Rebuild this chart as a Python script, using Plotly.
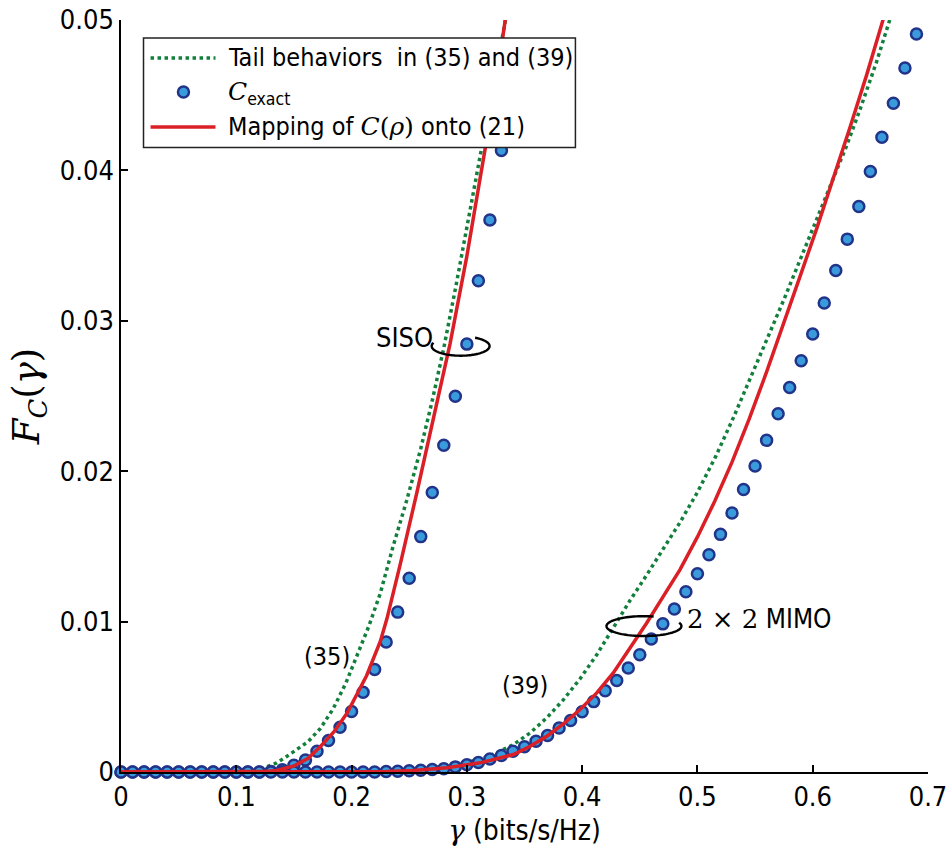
import numpy as np
import plotly.graph_objects as go

# ---------------- data ----------------
siso_exact_x = [round(0.01 * i, 2) for i in range(34)]
siso_exact_y = [0, 0, 0, 0, 0, 0, 0, 0, 0, 0, 0, 0, 0,
                0.00003, 0.00015, 0.00045, 0.00080, 0.00138, 0.00209, 0.00298,
                0.00402, 0.00530, 0.00681, 0.00865, 0.01063, 0.01288, 0.01565,
                0.01859, 0.02172, 0.02499, 0.02845, 0.03266, 0.03670, 0.04133]

mimo_exact_x = [round(0.01 * i, 2) for i in range(70)]
mimo_exact_y = [0] * 23 + [
    0.00003, 0.00005, 0.00009, 0.00012, 0.00017, 0.00022, 0.00034, 0.00048,
    0.00063, 0.00086, 0.00110, 0.00138, 0.00168, 0.00205, 0.00243, 0.00293,
    0.00342, 0.00400, 0.00468, 0.00540, 0.00608, 0.00692, 0.00780, 0.00885,
    0.00985, 0.01084, 0.01198, 0.01318, 0.01445, 0.01580, 0.01722, 0.01878,
    0.02035, 0.02205, 0.02382, 0.02557, 0.02734, 0.02912, 0.03118, 0.03334,
    0.03543, 0.03760, 0.03992, 0.04221, 0.04446, 0.04681, 0.04907]

siso_tail_x = [0.0, 0.110, 0.118, 0.125, 0.135, 0.144, 0.153, 0.162, 0.173,
               0.184, 0.195, 0.206, 0.215, 0.225, 0.236, 0.248, 0.260, 0.270,
               0.280, 0.290, 0.300, 0.310, 0.320, 0.331, 0.334]
siso_tail_y = [0.0, 0.0, 0.0001, 0.0003, 0.0006, 0.00105, 0.0015, 0.0020, 0.0029,
               0.0042, 0.0059, 0.0080, 0.0097, 0.0119, 0.0150, 0.0181, 0.0215,
               0.0247, 0.0282, 0.0321, 0.0362, 0.0403, 0.0445, 0.0490, 0.0502]

siso_map_x = [0.0, 0.115, 0.125, 0.135, 0.150, 0.162, 0.173, 0.185, 0.196, 0.213,
              0.225, 0.2307, 0.2422, 0.2567, 0.2711, 0.2855, 0.300, 0.316, 0.331,
              0.3335]
siso_map_y = [0.0, 0.0, 0.00003, 0.0001, 0.0004, 0.0009, 0.0017, 0.0027, 0.0039,
              0.0064, 0.0087, 0.0102, 0.0138, 0.0186, 0.0235, 0.0285, 0.0343,
              0.0415, 0.0488, 0.0501]

mimo_tail_x = [0.0, 0.200, 0.220, 0.240, 0.2537, 0.2827, 0.3115, 0.326, 0.3404,
               0.3549, 0.3693, 0.3837, 0.3982, 0.4127, 0.427, 0.4415, 0.456,
               0.4704, 0.4849, 0.500, 0.516, 0.532, 0.5455, 0.560, 0.5744, 0.5888,
               0.6033, 0.6177, 0.6292, 0.6408, 0.6553, 0.6668, 0.668]
mimo_tail_y = [0.0, 0.0, 0.00005, 0.00012, 0.00017, 0.00039, 0.00083, 0.00128,
               0.00183, 0.0026, 0.0036, 0.0048, 0.0062, 0.0078, 0.0096, 0.0114,
               0.0131, 0.01485, 0.0166, 0.0186, 0.0210, 0.0237, 0.0261, 0.0287,
               0.0313, 0.0340, 0.0367, 0.0394, 0.0416, 0.0440, 0.0472, 0.0500,
               0.0503]

mimo_map_x = [0.0, 0.190, 0.230, 0.2537, 0.2827, 0.3115, 0.3404, 0.3549, 0.3693,
              0.3837, 0.3982, 0.4127, 0.427, 0.4444, 0.456, 0.4704, 0.4849, 0.500,
              0.515, 0.530, 0.545, 0.560, 0.5744, 0.5888, 0.6033, 0.6177, 0.6321,
              0.6466, 0.661, 0.6625]
mimo_map_y = [0.0, 0.0, 0.00004, 0.0001, 0.00028, 0.00061, 0.00116, 0.00171,
              0.00238, 0.0032, 0.00415, 0.00526, 0.00659, 0.00858, 0.00991,
              0.01168, 0.01346, 0.01563, 0.0180, 0.0206, 0.0235, 0.0266, 0.0297,
              0.0329, 0.0361, 0.0394, 0.0428, 0.0463, 0.0499, 0.0504]

x_ticks = [0, 0.1, 0.2, 0.3, 0.4, 0.5, 0.6, 0.7]
x_tick_text = ["0", "0.1", "0.2", "0.3", "0.4", "0.5", "0.6", "0.7"]
y_ticks = [0, 0.01, 0.02, 0.03, 0.04, 0.05]
y_tick_text = ["0", "0.01", "0.02", "0.03", "0.04", "0.05"]

legend_labels = ["Tail behaviors  in (35) and (39)",
                 '<span style="font-family:DejaVu Serif"><i>C</i></span><sub>exact</sub>',
                 'Mapping of <span style="font-family:DejaVu Serif"><i>C</i>(<i>ρ</i>)</span> onto (21)']

# ---------------- style ----------------
GREEN = "#12803c"
RED = "#db1f26"
FILL = "#3a9bdc"
EDGE = "#22348a"
SANS = "DejaVu Sans Condensed, DejaVu Sans"
SERIF = "DejaVu Serif"
MSIZE = 11
MEDGE = 2.5

fig = go.Figure()

fig.add_trace(go.Scatter(x=siso_tail_x, y=siso_tail_y, mode="lines",
                         line=dict(color=GREEN, width=3.5, dash="dot"),
                         name="Tail behaviors in (35) and (39)", showlegend=False))
fig.add_trace(go.Scatter(x=mimo_tail_x, y=mimo_tail_y, mode="lines",
                         line=dict(color=GREEN, width=3.5, dash="dot"),
                         showlegend=False))
fig.add_trace(go.Scatter(x=siso_exact_x, y=siso_exact_y, mode="markers",
                         marker=dict(size=MSIZE, color=FILL, line=dict(color=EDGE, width=MEDGE)),
                         name="C exact", showlegend=False, cliponaxis=False))
fig.add_trace(go.Scatter(x=mimo_exact_x, y=mimo_exact_y, mode="markers",
                         marker=dict(size=MSIZE, color=FILL, line=dict(color=EDGE, width=MEDGE)),
                         showlegend=False, cliponaxis=False))
fig.add_trace(go.Scatter(x=siso_map_x, y=siso_map_y, mode="lines",
                         line=dict(color=RED, width=3.5),
                         name="Mapping of C(rho) onto (21)", showlegend=False))
fig.add_trace(go.Scatter(x=mimo_map_x, y=mimo_map_y, mode="lines",
                         line=dict(color=RED, width=3.5), showlegend=False))

# ---------------- ellipse markers (annotation decoration) ----------------
def arc_path(cx, cy, rx, ry, a0, a1):
    t = np.radians(np.linspace(a0, a1, 80))
    xs = cx + rx * np.cos(t)
    ys = cy + ry * np.sin(t)
    return "M " + " L ".join(f"{a:.5f},{b:.6f}" for a, b in zip(xs, ys))

fig.add_shape(type="path", xref="x", yref="y",
              path=arc_path(0.2946, 0.02832, 0.0251, 0.00064, 160, 420),
              line=dict(color="black", width=2.4))
fig.add_shape(type="path", xref="x", yref="y",
              path=arc_path(0.4536, 0.00970, 0.0325, 0.00066, 75, 380),
              line=dict(color="black", width=2.4))

fig.add_annotation(x=0.2723, y=0.0289, xref="x", yref="y", text="SISO",
                   showarrow=False, xanchor="right", yanchor="middle",
                   font=dict(family=SANS, size=27, color="black"))
fig.add_annotation(x=0.489, y=0.0102, xref="x", yref="y",
                   text='<span style="font-family:DejaVu Serif">2 × 2</span> MIMO',
                   showarrow=False, xanchor="left", yanchor="middle",
                   font=dict(family=SANS, size=26, color="black"))
fig.add_annotation(x=0.1786, y=0.00766, xref="x", yref="y", text="(35)",
                   showarrow=False, xanchor="center", yanchor="middle",
                   font=dict(family=SANS, size=25, color="black"))
fig.add_annotation(x=0.3503, y=0.00575, xref="x", yref="y", text="(39)",
                   showarrow=False, xanchor="center", yanchor="middle",
                   font=dict(family=SANS, size=25, color="black"))

# ---------------- legend (drawn in paper coordinates) ----------------
fig.add_shape(type="rect", xref="paper", yref="paper", x0=0.0279, x1=0.5631,
              y0=0.8306, y1=0.9761, fillcolor="white",
              line=dict(color="#222", width=1.5), layer="above")
fig.add_shape(type="line", xref="paper", yref="paper", x0=0.0366, x1=0.1171,
              y0=0.9495, y1=0.9495, line=dict(color=GREEN, width=3.5, dash="dot"),
              layer="above")
fig.add_shape(type="circle", xref="paper", yref="paper", xsizemode="pixel",
              ysizemode="pixel", xanchor=0.0774, yanchor=0.9043,
              x0=-MSIZE / 2, x1=MSIZE / 2, y0=-MSIZE / 2, y1=MSIZE / 2,
              fillcolor=FILL, line=dict(color=EDGE, width=MEDGE), layer="above")
fig.add_shape(type="line", xref="paper", yref="paper", x0=0.0366, x1=0.1171,
              y0=0.8578, y1=0.8578, line=dict(color=RED, width=3.5), layer="above")
for lab, yy in zip(legend_labels, [0.9505, 0.9030, 0.8590]):
    fig.add_annotation(x=0.1295, y=yy, xref="paper", yref="paper", text=lab,
                       showarrow=False, xanchor="left", yanchor="middle",
                       font=dict(family=SANS, size=25, color="black"))

fig.update_layout(
    width=949, height=848,
    margin=dict(l=120.5, r=21.3, t=20, b=75.5),
    paper_bgcolor="white", plot_bgcolor="white",
    font=dict(family=SANS, size=27, color="black"),
    showlegend=False,
)
fig.update_xaxes(range=[0, 0.7], tickvals=x_ticks, ticktext=x_tick_text,
                 ticks="inside", ticklen=7, tickwidth=1.5, tickcolor="black",
                 showline=True, linecolor="black", linewidth=1.5, mirror=False,
                 showgrid=False, zeroline=False, automargin=False,
                 title=dict(text='<span style="font-family:DejaVu Serif"><i>γ</i></span> (bits/s/Hz)',
                            font=dict(family=SANS, size=28), standoff=9))
fig.update_yaxes(range=[0, 0.05], tickvals=y_ticks, ticktext=y_tick_text,
                 ticks="inside", ticklen=7, tickwidth=1.5, tickcolor="black",
                 showline=True, linecolor="black", linewidth=1.5, mirror=False,
                 showgrid=False, zeroline=False, automargin=False,
                 title=dict(text="<i>F</i><sub><i>C</i></sub>(<i>γ</i>)",
                            font=dict(family=SERIF, size=37), standoff=9))

# remove the default page margin so the 949x848 figure fills the window exactly
fig.write_html("out.html",
               config={"displayModeBar": False},
               post_script="document.body.style.margin='0';"
                           "document.body.style.overflow='hidden';")
